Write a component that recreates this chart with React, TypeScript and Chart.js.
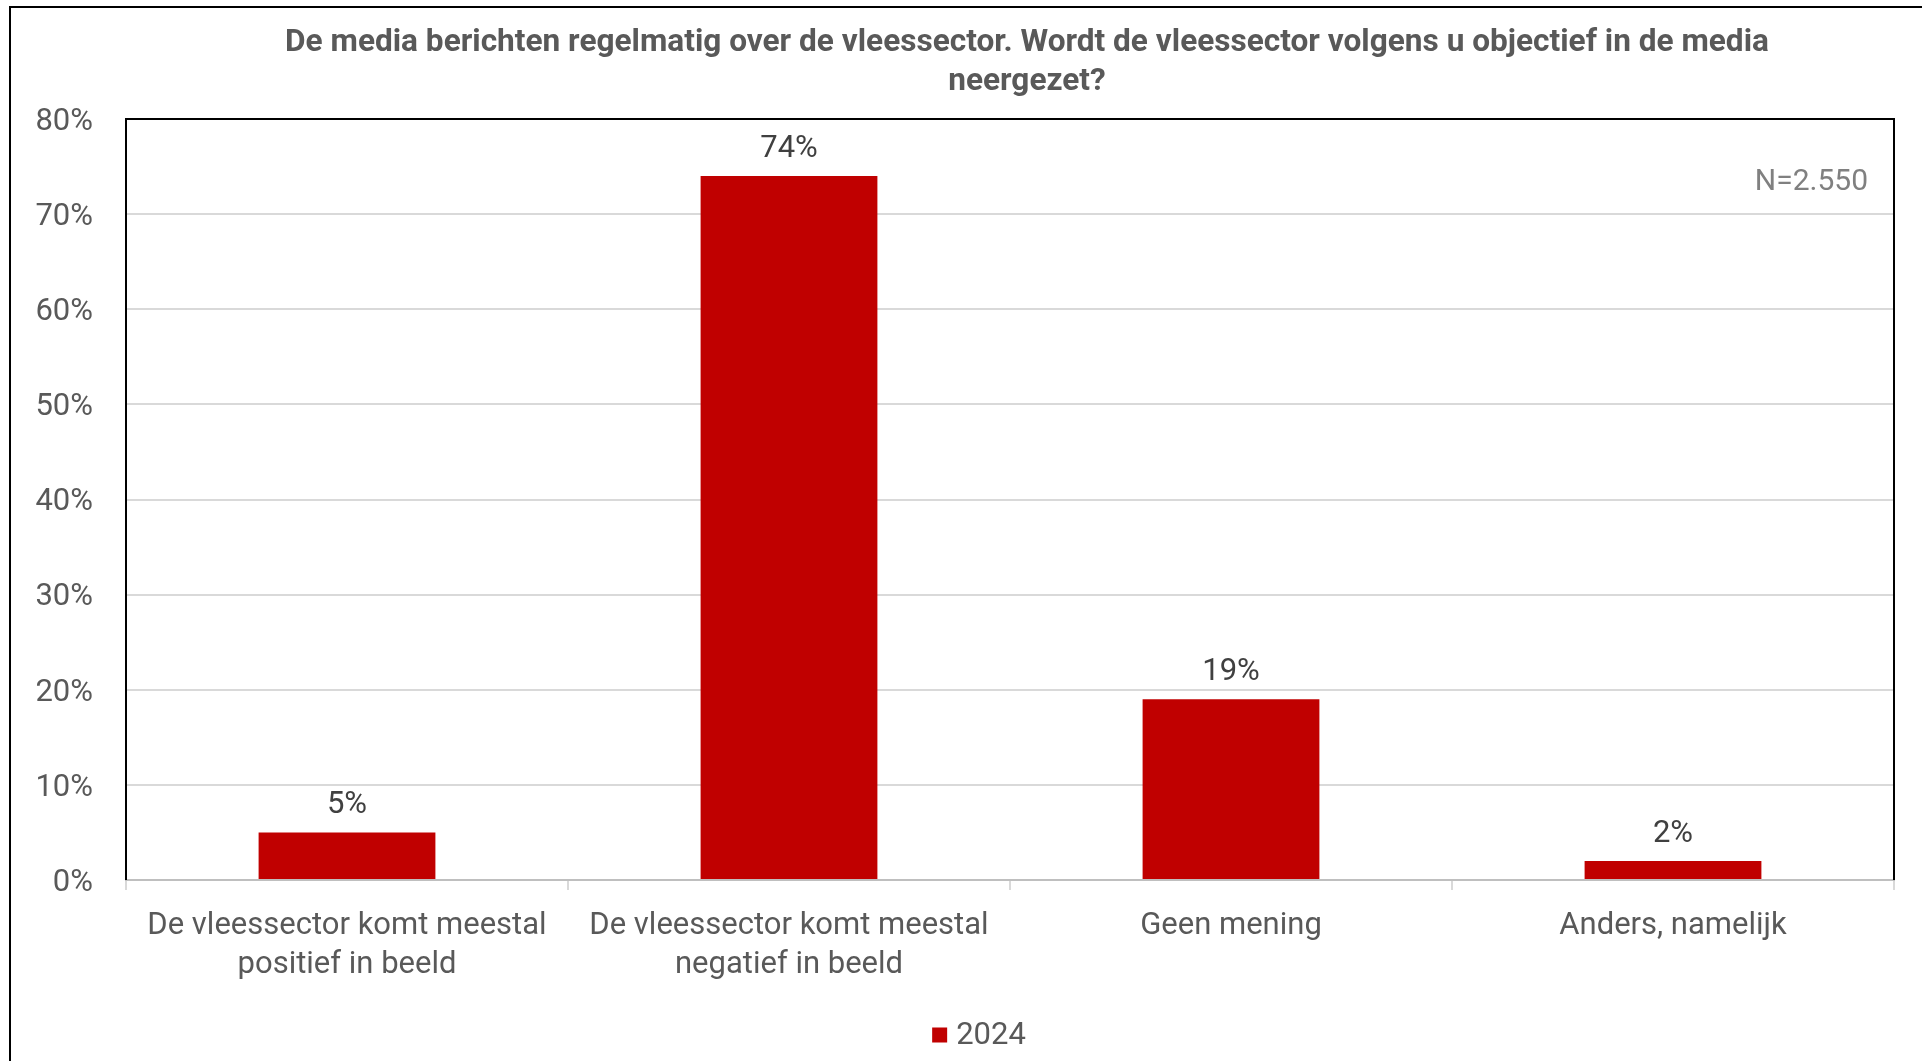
import React, { useEffect, useRef } from "react";
import { Chart, registerables } from "chart.js";

Chart.register(...registerables);

const categories: string[][] = [
  ["De vleessector komt meestal", "positief in beeld"],
  ["De vleessector komt meestal", "negatief in beeld"],
  ["Geen mening"],
  ["Anders, namelijk"],
];
const seriesLabel = "2024";
const values2024: number[] = [5, 74, 19, 2];
const yTicks: number[] = [0, 10, 20, 30, 40, 50, 60, 70, 80];
const titleLines: string[] = [
  "De media berichten regelmatig over de vleessector. Wordt de vleessector volgens u objectief in de media",
  "neergezet?",
];
const noteText = "N=2.550";

const FONT = "Roboto, 'Noto Sans', sans-serif";
const RED = "#C00000";

const framePlugin = {
  id: "framePlugin",
  beforeDraw(chart: any) {
    const { ctx } = chart;
    ctx.save();
    ctx.fillStyle = "#ffffff";
    ctx.fillRect(0, 0, chart.width, chart.height);
    ctx.strokeStyle = "#000000";
    ctx.lineWidth = 2;
    ctx.beginPath();
    ctx.moveTo(10, chart.height + 2);
    ctx.lineTo(10, 7);
    ctx.lineTo(chart.width + 2, 7);
    ctx.stroke();
    // title
    ctx.font = `bold 31.6px ${FONT}`;
    ctx.fillStyle = "#595959";
    ctx.textAlign = "center";
    ctx.textBaseline = "middle";
    titleLines.forEach((line, i) => {
      ctx.fillText(line, 1027, 43.5 + i * 39);
    });
    ctx.restore();
  },
  beforeDatasetsDraw(chart: any) {
    const { ctx, chartArea } = chart;
    ctx.save();
    ctx.strokeStyle = "#000000";
    ctx.lineWidth = 2;
    ctx.beginPath();
    ctx.moveTo(chartArea.left, chartArea.bottom);
    ctx.lineTo(chartArea.left, chartArea.top);
    ctx.lineTo(chartArea.right, chartArea.top);
    ctx.lineTo(chartArea.right, chartArea.bottom);
    ctx.stroke();
    ctx.font = `30px ${FONT}`;
    ctx.fillStyle = "#808080";
    ctx.textAlign = "right";
    ctx.textBaseline = "middle";
    ctx.fillText(noteText, chartArea.right - 26, chartArea.top + 63);
    ctx.restore();
  },
  afterDatasetsDraw(chart: any) {
    const { ctx } = chart;
    const meta = chart.getDatasetMeta(0);
    ctx.save();
    ctx.font = `31px ${FONT}`;
    ctx.fillStyle = "#404040";
    ctx.textAlign = "center";
    ctx.textBaseline = "middle";
    meta.data.forEach((el: any, i: number) => {
      ctx.fillText(`${values2024[i]}%`, el.x, el.y - 27);
    });
    ctx.restore();
  },
  afterDraw(chart: any) {
    // legend (single series)
    const { ctx } = chart;
    const ds = chart.data.datasets[0];
    ctx.save();
    ctx.font = `31px ${FONT}`;
    const tw = ctx.measureText(ds.label).width;
    const box = 15;
    const gap = 9;
    const total = box + gap + tw;
    const cx = 979;
    const cy = 1035;
    const x0 = cx - total / 2;
    ctx.fillStyle = ds.backgroundColor;
    ctx.fillRect(x0, cy - box / 2, box, box);
    ctx.fillStyle = "#595959";
    ctx.textAlign = "left";
    ctx.textBaseline = "middle";
    ctx.fillText(ds.label, x0 + box + gap, cy + 1);
    ctx.restore();
  },
};

export default function App() {
  const ref = useRef<HTMLCanvasElement | null>(null);
  useEffect(() => {
    document.body.style.margin = "0";
    const canvas = ref.current;
    if (!canvas) return;
    const chart = new Chart(canvas, {
      type: "bar",
      data: {
        labels: categories,
        datasets: [
          {
            label: seriesLabel,
            data: values2024,
            backgroundColor: RED,
            borderWidth: 0,
            barPercentage: 0.4,
            categoryPercentage: 1,
          },
        ],
      },
      options: {
        responsive: false,
        animation: false,
        layout: { padding: { left: 10, right: 28, top: 119, bottom: 0 } },
        plugins: {
          title: { display: false },
          legend: { display: false },
          tooltip: { enabled: false },
        },
        scales: {
          x: {
            grid: {
              display: true,
              drawOnChartArea: false,
              drawTicks: true,
              tickLength: 10,
              offset: true,
              color: "#d9d9d9",
              lineWidth: 2,
            },
            border: { display: true, color: "#bfbfbf", width: 2 },
            ticks: {
              color: "#595959",
              font: { family: FONT, size: 31, lineHeight: 39 / 31 },
              padding: 17,
              maxRotation: 0,
            },
            afterFit(scale: any) {
              scale.height = 181;
            },
          },
          y: {
            min: 0,
            max: 80,
            afterBuildTicks(scale: any) {
              scale.ticks = yTicks.map((v) => ({ value: v }));
            },
            grid: {
              color: "#d9d9d9",
              lineWidth: 2,
              drawTicks: false,
            },
            border: { display: false },
            ticks: {
              color: "#595959",
              font: { family: FONT, size: 31 },
              padding: 33,
              labelOffset: 3,
              callback: (v: any) => `${v}%`,
            },
            afterFit(scale: any) {
              scale.width = 116;
            },
          },
        },
      },
      plugins: [framePlugin],
    });
    return () => chart.destroy();
  }, []);
  return (
    <div style={{ position: "fixed", left: 0, top: 0, width: 1922, height: 1061 }}>
      <canvas ref={ref} width={1922} height={1061} style={{ width: 1922, height: 1061, display: "block" }} />
    </div>
  );
}
